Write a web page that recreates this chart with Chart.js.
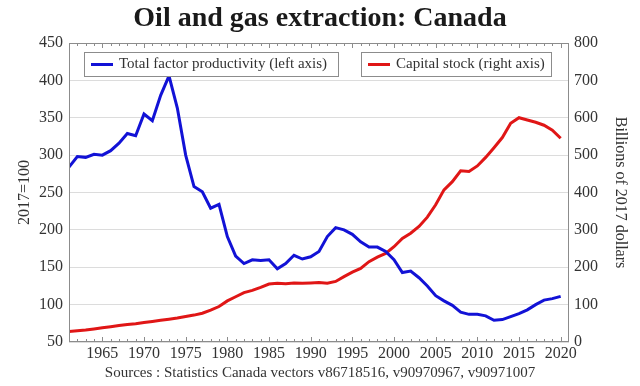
<!DOCTYPE html>
<html>
<head>
<meta charset="utf-8">
<script src="https://cdn.jsdelivr.net/npm/chart.js@4"></script>
<style>
  html, body { margin: 0; padding: 0; background: #fff; }
  #wrap { width: 640px; height: 386px; }
</style>
</head>
<body>
<div id="wrap"><canvas id="oilChart" width="640" height="386"></canvas></div>
<script>
  const years = [];
  for (let y = 1961; y <= 2020; y++) years.push(y);

  // total factor productivity, 2017=100 (left axis)
  const tfp = [
    284, 298, 297, 301, 300, 306, 316, 329, 326, 355,
    346, 380, 406, 363, 300, 258, 251, 229, 234, 191,
    165, 155, 160, 159, 160, 148, 155, 166, 161, 164,
    171, 191, 203, 200, 194, 184, 177, 177, 171, 160,
    143, 145, 136, 125, 112, 105, 99, 90, 87, 87,
    85, 79, 80, 84, 88, 93, 100, 106, 108, 111
  ];

  // capital stock, billions of 2017 dollars (right axis)
  const capital = [
    28, 30, 32, 35, 38, 41, 44, 47, 49, 52,
    55, 58, 61, 64, 68, 72, 77, 85, 95, 110,
    121, 132, 138, 146, 155, 157, 156, 158, 157, 158,
    159, 157, 162, 175, 187, 197, 215, 227, 237, 255,
    277, 291, 309, 334, 367, 407, 429, 458, 456, 471,
    494, 520, 547, 585, 600, 594, 588, 580, 567, 545
  ];

  const xTicks = [1965, 1970, 1975, 1980, 1985, 1990, 1995, 2000, 2005, 2010, 2015, 2020];
  const seriesNames = ['Total factor productivity (left axis)', 'Capital stock (right axis)'];

  const serif = "'Liberation Serif', 'DejaVu Serif', serif";
  const frameColor = '#8c8c8c';

  // frame, minor year ticks and boxed legends inside the plot
  const extras = {
    id: 'extras',
    afterDatasetsDraw(chart) {
      const { ctx, chartArea: a, scales } = chart;
      ctx.save();
      ctx.strokeStyle = frameColor;
      ctx.lineWidth = 1;
      ctx.strokeRect(a.left + 0.5, a.top + 0.5, a.right - a.left - 1, a.bottom - a.top - 1);
      ctx.beginPath();
      years.forEach(y => {
        const px = Math.round(scales.x.getPixelForValue(y)) + 0.5;
        const len = xTicks.includes(y) ? 5 : 3;
        ctx.moveTo(px, a.bottom); ctx.lineTo(px, a.bottom - len);
        ctx.moveTo(px, a.top); ctx.lineTo(px, a.top + len);
      });
      ctx.stroke();

      const boxes = [
        { x: 84, w: 254, ds: 0 },
        { x: 361, w: 190, ds: 1 }
      ];
      ctx.font = '15px ' + serif;
      ctx.textBaseline = 'middle';
      boxes.forEach(b => {
        const top = a.top + 9, h = 24;
        ctx.fillStyle = '#fff';
        ctx.fillRect(b.x, top, b.w, h);
        ctx.strokeStyle = '#8c8c8c';
        ctx.strokeRect(b.x + 0.5, top + 0.5, b.w, h);
        const ds = chart.data.datasets[b.ds];
        ctx.strokeStyle = ds.borderColor;
        ctx.lineWidth = 3;
        ctx.beginPath();
        ctx.moveTo(b.x + 7, top + 12.5);
        ctx.lineTo(b.x + 29, top + 12.5);
        ctx.stroke();
        ctx.lineWidth = 1;
        ctx.fillStyle = '#333';
        ctx.fillText(ds.label, b.x + 35, top + 12.5);
      });
      ctx.restore();
    }
  };

  const ctx1 = document.getElementById('oilChart').getContext('2d');
  const oilChart = new Chart(ctx1, {
    type: 'line',
    data: {
      datasets: [{
        label: seriesNames[0],
        data: years.map((y, i) => ({ x: y, y: tfp[i] })),
        borderColor: '#1212d6',
        borderWidth: 3,
        pointRadius: 0,
        tension: 0,
        yAxisID: 'y'
      }, {
        label: seriesNames[1],
        data: years.map((y, i) => ({ x: y, y: capital[i] })),
        borderColor: '#e01616',
        borderWidth: 3,
        pointRadius: 0,
        tension: 0,
        yAxisID: 'y1'
      }]
    },
    options: {
      responsive: false,
      animation: false,
      layout: { padding: 0 },
      plugins: {
        legend: { display: false },
        tooltip: { enabled: false },
        title: {
          display: true,
          text: 'Oil and gas extraction: Canada',
          color: '#1a1a1a',
          font: { family: serif, size: 28, weight: 'bold', lineHeight: 1.2 },
          padding: { top: 2, bottom: 7.4 }
        },
        subtitle: {
          display: true,
          position: 'bottom',
          text: 'Sources : Statistics Canada vectors v86718516, v90970967, v90971007',
          color: '#333',
          font: { family: serif, size: 15, lineHeight: 1.2 },
          padding: { top: 2, bottom: 4 }
        }
      },
      scales: {
        x: {
          type: 'linear',
          min: 1961,
          max: 2021,
          grid: { display: false, drawTicks: false, tickLength: 0 },
          border: { display: false },
          afterBuildTicks: s => { s.ticks = xTicks.map(v => ({ value: v })); },
          afterFit: s => { s.height = 20; },
          ticks: {
            color: '#333',
            font: { family: serif, size: 16 },
            padding: 2,
            maxRotation: 0,
            callback: v => String(v)
          }
        },
        y: {
          position: 'left',
          min: 50,
          max: 450,
          grid: { color: '#dcdcdc', drawTicks: false },
          border: { display: false },
          afterFit: s => { s.width = 69; },
          ticks: {
            stepSize: 50,
            color: '#333',
            padding: 6,
            font: { family: serif, size: 16 }
          },
          title: {
            display: true,
            text: '2017=100',
            color: '#333',
            font: { family: serif, size: 16 },
            padding: { top: 15, bottom: 0 }
          }
        },
        y1: {
          position: 'right',
          min: 0,
          max: 800,
          grid: { display: false, drawTicks: false },
          border: { display: false },
          afterFit: s => { s.width = 71; },
          ticks: {
            stepSize: 100,
            color: '#333',
            padding: 5,
            font: { family: serif, size: 16 }
          },
          title: {
            display: true,
            text: 'Billions of 2017 dollars',
            color: '#333',
            font: { family: serif, size: 16 },
            padding: { top: 10, bottom: 0 }
          }
        }
      }
    },
    plugins: [extras]
  });
</script>
</body>
</html>
